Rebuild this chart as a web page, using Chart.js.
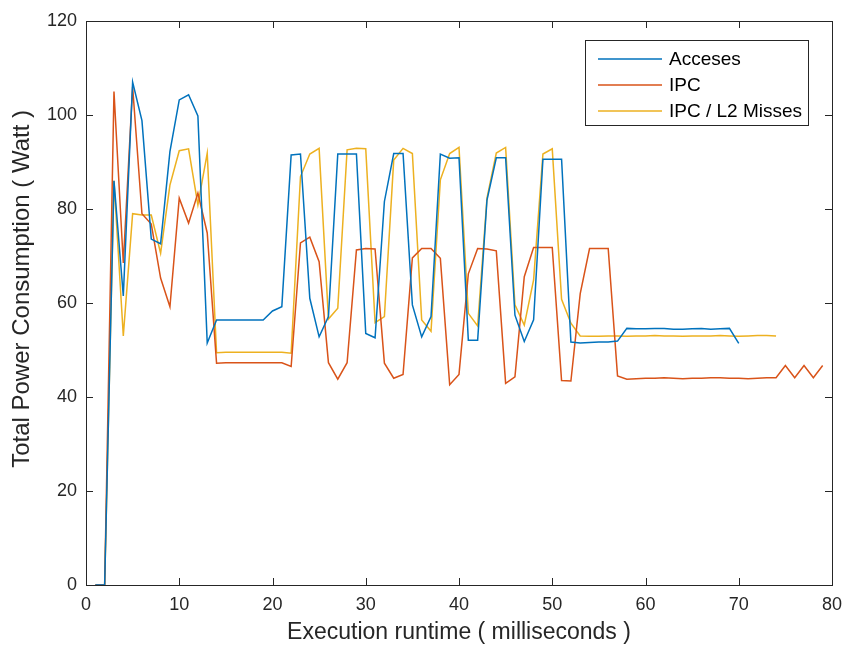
<!DOCTYPE html>
<html>
<head>
<meta charset="utf-8">
<title>Total Power Consumption</title>
<script src="https://cdn.jsdelivr.net/npm/chart.js@4/dist/chart.umd.min.js"></script>
<style>
  html, body { margin: 0; padding: 0; background: #fff; }
  #powerChart { display: block; }
</style>
</head>
<body>
<canvas id="powerChart" width="846" height="649"></canvas>
<script>
// ==============================
//  DATA (1 ms samples)
// ==============================
const runtime = [
     1,  2,  3,  4,  5,  6,  7,  8,  9, 10,
    11, 12, 13, 14, 15, 16, 17, 18, 19, 20,
    21, 22, 23, 24, 25, 26, 27, 28, 29, 30,
    31, 32, 33, 34, 35, 36, 37, 38, 39, 40,
    41, 42, 43, 44, 45, 46, 47, 48, 49, 50,
    51, 52, 53, 54, 55, 56, 57, 58, 59, 60,
    61, 62, 63, 64, 65, 66, 67, 68, 69, 70,
    71, 72, 73, 74, 75, 76, 77, 78, 79
];

const accessesPower = [
    0, 0, 86, 61.5, 107, 98.8, 73.6, 72.6, 92.2, 103.2,
    104.3, 99.8, 51.5, 56.4, 56.4, 56.4, 56.4, 56.4, 56.4, 58.3,
    59.2, 91.5, 91.7, 61, 52.8, 57.1, 91.7, 91.7, 91.7, 53.5,
    52.6, 81.6, 91.8, 91.8, 59.6, 52.8, 57.1, 91.7, 90.8, 90.9,
    52.1, 52.1, 81.9, 90.9, 90.9, 57.4, 51.8, 56.4, 90.6, 90.6,
    90.6, 51.7, 51.5, 51.6, 51.7, 51.7, 51.9, 54.6, 54.5, 54.5,
    54.6, 54.6, 54.4, 54.4, 54.5, 54.6, 54.4, 54.5, 54.6, 51.4
];

const ipcPower = [
    0, 0, 105, 68.5, 106, 79, 76.8, 65.3, 59.2, 82.3,
    77, 83.4, 74.9, 47.2, 47.3, 47.3, 47.3, 47.3, 47.3, 47.3,
    47.3, 46.5, 72.8, 74, 68.8, 47.3, 43.8, 47.3, 71.3, 71.6,
    71.5, 47.2, 44, 44.8, 69.6, 71.6, 71.6, 69.5, 42.6, 44.8,
    66.2, 71.6, 71.5, 71.1, 42.9, 44.3, 65.6, 71.8, 71.8, 71.8,
    43.5, 43.4, 62, 71.6, 71.6, 71.6, 44.5, 43.8, 43.9, 44,
    44, 44.1, 44, 43.9, 44, 44, 44.1, 44.1, 44, 44,
    43.9, 44, 44.1, 44.1, 46.7, 44.1, 46.7, 44.1, 46.7
];

const ipcL2Power = [
    0, 0, 86, 53, 79, 78.7, 78.7, 70.6, 85.1, 92.4,
    92.8, 80.9, 91.9, 49.4, 49.5, 49.5, 49.5, 49.5, 49.5, 49.5,
    49.5, 49.3, 86.9, 91.7, 92.9, 56.6, 58.9, 92.6, 92.9, 92.8,
    55.8, 57.1, 90.4, 92.9, 91.8, 56.4, 54, 86.2, 91.8, 93.1,
    57.8, 55.1, 82.3, 91.9, 93.1, 59.6, 55.3, 64.9, 91.7, 92.8,
    60.8, 55.7, 53, 52.9, 52.9, 53, 53, 52.9, 53, 53,
    53.1, 53, 53, 52.9, 53, 53, 53, 53.1, 53, 52.9,
    53, 53.1, 53.1, 53
];

const seriesNames = ["Acceses", "IPC", "IPC / L2 Misses"];
const seriesColors = ["#0072BD", "#D95319", "#EDB120"];

const xTickValues = [0, 10, 20, 30, 40, 50, 60, 70, 80];
const yTickValues = [0, 20, 40, 60, 80, 100, 120];

const yTitle = "Total Power Consumption ( Watt )";
const xTitle = "Execution runtime ( milliseconds )";

const FONT = "'Liberation Sans', Arial, Helvetica, sans-serif";
const INK = "#262626";

function toPoints(values) {
    return values.map((v, i) => ({ x: runtime[i], y: v }));
}

// ==============================
//  BOX + INWARD TICKS + Y TITLE
// ==============================
const boxAxes = {
    id: "boxAxes",
    afterDatasetsDraw(chart) {
        const { ctx, chartArea: a, scales } = chart;
        const len = 7;
        ctx.save();
        ctx.strokeStyle = INK;
        ctx.lineWidth = 1;
        ctx.beginPath();
        xTickValues.forEach(v => {
            const px = Math.round(scales.x.getPixelForValue(v)) + 0.5;
            ctx.moveTo(px, a.bottom); ctx.lineTo(px, a.bottom - len);
            ctx.moveTo(px, a.top); ctx.lineTo(px, a.top + len);
        });
        yTickValues.forEach(v => {
            const py = Math.round(scales.y.getPixelForValue(v)) + 0.5;
            ctx.moveTo(a.left, py); ctx.lineTo(a.left + len, py);
            ctx.moveTo(a.right, py); ctx.lineTo(a.right - len, py);
        });
        ctx.stroke();
        ctx.strokeRect(Math.round(a.left) + 0.5, Math.round(a.top) + 0.5,
                       Math.round(a.right - a.left), Math.round(a.bottom - a.top));

        // y label sits a little above the axis middle
        ctx.translate(22, scales.y.getPixelForValue(63));
        ctx.rotate(-Math.PI / 2);
        ctx.font = "24px " + FONT;
        ctx.fillStyle = INK;
        ctx.textAlign = "center";
        ctx.textBaseline = "middle";
        ctx.fillText(yTitle, 0, 0);
        ctx.restore();
    }
};

// ==============================
//  LEGEND (top right, boxed)
// ==============================
const boxLegend = {
    id: "boxLegend",
    afterDraw(chart) {
        const { ctx } = chart;
        const x0 = 585.5, y0 = 40.5, w = 223, h = 85;
        ctx.save();
        ctx.fillStyle = "#fff";
        ctx.fillRect(x0, y0, w, h);
        ctx.strokeStyle = INK;
        ctx.lineWidth = 1;
        ctx.strokeRect(x0, y0, w, h);
        ctx.font = "19px " + FONT;
        ctx.textBaseline = "middle";
        chart.data.datasets.forEach((ds, i) => {
            const cy = 59 + i * 26;
            ctx.strokeStyle = ds.borderColor;
            ctx.lineWidth = 1.5;
            ctx.beginPath();
            ctx.moveTo(598, cy); ctx.lineTo(662, cy);
            ctx.stroke();
            ctx.fillStyle = "#000";
            ctx.fillText(ds.label, 669, cy + 1);
        });
        ctx.restore();
    }
};

// ==============================
//  CHART
// ==============================
const lineStyle = (label, values, color) => ({
    label: label,
    data: toPoints(values),
    borderColor: color,
    backgroundColor: color,
    borderWidth: 1.5,
    pointRadius: 0,
    tension: 0,
    fill: false
});

new Chart(document.getElementById("powerChart"), {
    type: "line",
    data: {
        datasets: [
            lineStyle(seriesNames[0], accessesPower, seriesColors[0]),
            lineStyle(seriesNames[1], ipcPower, seriesColors[1]),
            lineStyle(seriesNames[2], ipcL2Power, seriesColors[2])
        ]
    },
    options: {
        responsive: false,
        animation: false,
        layout: { padding: { left: 7, right: 14, top: 21, bottom: 2 } },
        plugins: {
            legend: { display: false },
            tooltip: { enabled: false }
        },
        scales: {
            x: {
                type: "linear",
                min: 0,
                max: 80,
                afterBuildTicks: s => { s.ticks = xTickValues.map(v => ({ value: v })); },
                afterFit: s => { s.height = 62; s.paddingLeft = 0; s.paddingRight = 0; },
                grid: { display: false, drawTicks: false },
                border: { display: false },
                ticks: { color: INK, padding: 9, maxRotation: 0, font: { family: FONT, size: 18 } },
                title: {
                    display: true,
                    text: xTitle,
                    color: INK,
                    padding: { top: 0, bottom: 1 },
                    font: { family: FONT, size: 23 }
                }
            },
            y: {
                type: "linear",
                min: 0,
                max: 120,
                afterBuildTicks: s => { s.ticks = yTickValues.map(v => ({ value: v })); },
                afterFit: s => { s.width = 79; s.paddingTop = 0; s.paddingBottom = 0; },
                grid: { display: false, drawTicks: false },
                border: { display: false },
                ticks: { color: INK, padding: 9, font: { family: FONT, size: 18 } }
            }
        }
    },
    plugins: [boxAxes, boxLegend]
});
</script>
</body>
</html>
